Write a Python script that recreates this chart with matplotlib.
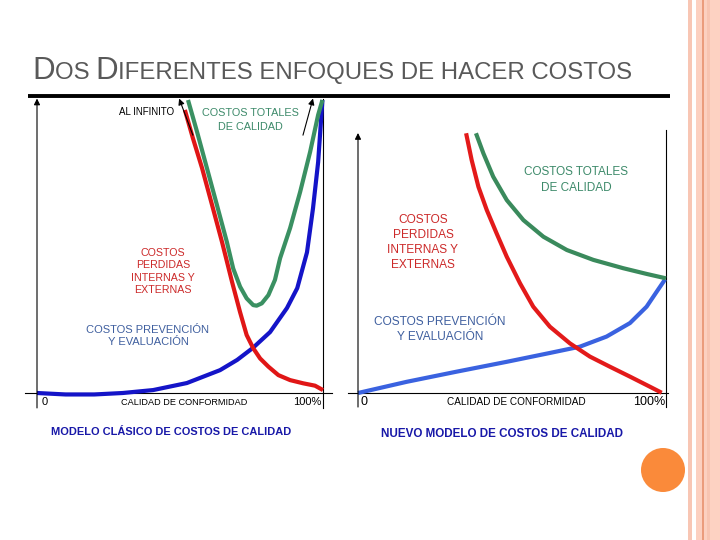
import matplotlib
matplotlib.use("Agg")
import matplotlib.pyplot as plt
from matplotlib.patches import Circle, Rectangle

plt.rcParams["font.family"] = ["Liberation Sans", "DejaVu Sans"]

# --- data (x: % calidad de conformidad, y: relative cost) ---
left_blue_x = [0, 10, 20, 30, 40.6, 52.4, 64, 70, 75.5, 81.5, 87.4, 91, 94.4, 96.5, 98.3, 99.8]
left_blue_y = [0, -0.5, -0.5, 0, 1.0, 3.4, 7.8, 11.3, 15.4, 20.8, 29, 35.8, 48, 63, 78.8, 100]
left_red_x = [51.7, 54.5, 57.7, 61.2, 64.7, 68.2, 71, 73.3, 75.6, 78.0, 80.9, 84.4, 88.5,
              93.1, 97.2, 100]
left_red_y = [96.6, 87, 76.8, 64.2, 51.5, 37.9, 27.6, 19.8, 15.3, 11.8, 9.0, 6.1, 4.4,
              3.3, 2.5, 1]
left_green_x = [52.8, 56, 59.4, 62.9, 66.4, 68.6, 71.0, 73.3, 75.6, 76.8, 78.6, 80.9, 83.2,
                85, 88.5, 92, 95.5, 98.3, 99.8]
left_green_y = [100, 89, 76.8, 64.2, 51.5, 42.5, 36.3, 32.3, 30.0, 29.8, 30.6, 33.4, 38.6,
                46, 56.3, 68.6, 82.3, 94.9, 100]

right_blue_x = [0, 15.8, 32, 48.3, 62.3, 72, 80.7, 88.3, 93.7, 97, 99.7]
right_blue_y = [0, 4.3, 8.2, 12, 15.4, 17.8, 21.7, 26.9, 33.2, 39, 43.7]
right_red_x = [35.1, 36.9, 39.1, 41.8, 45, 48.3, 52.6, 56.9, 62.3, 68.8, 75.3, 81.8, 88.3, 94.8, 98.6]
right_red_y = [99.9, 89.6, 79.3, 70.4, 61.4, 52.4, 42.2, 33.2, 25.5, 19.1, 14, 10.1, 6.3, 2.4, 0.1]
right_green_x = [38.3, 40.7, 43.9, 48.3, 53.7, 60.2, 67.8, 76.4, 86.1, 93.7, 100]
right_green_y = [99.9, 92.2, 83.2, 74.2, 66.5, 60.1, 55, 51.2, 48, 45.8, 44.1]

title_parts = ["D", "OS ", "D", "IFERENTES ENFOQUES DE HACER COSTOS"]
title_sizes = [22.5, 17.3, 22.5, 17.3]
captions = ["MODELO CLÁSICO DE COSTOS DE CALIDAD", "NUEVO MODELO DE COSTOS DE CALIDAD"]
label_total = "COSTOS TOTALES\nDE CALIDAD"
label_perdidas = "COSTOS\nPERDIDAS\nINTERNAS Y\nEXTERNAS"
label_prevencion = "COSTOS PREVENCIÓN\nY EVALUACIÓN"
x_label = "CALIDAD DE CONFORMIDAD"

fig = plt.figure(figsize=(7.2, 5.4), dpi=100)

# page overlay in pixel coordinates
over = fig.add_axes([0, 0, 1, 1])
over.set_xlim(0, 720)
over.set_ylim(540, 0)
over.axis("off")

# decorative stripes on the right edge
stripes = [(688, 692, "#f8c6b4"), (696, 702, "#fcd0c0"), (702, 703.5, "#eb9c7c"),
           (703.5, 707, "#fcd0c0"), (707, 710, "#f8c4b1"), (710, 720, "#fdd2c2")]
for a, b, c in stripes:
    over.add_patch(Rectangle((a, 0), b - a, 540, color=c, lw=0))
over.add_patch(Circle((663, 470), 22, color="#fa8a3a", lw=0))

# title in small caps, drawn piece by piece
renderer = fig.canvas.get_renderer()
x = 32
for s, size in zip(title_parts, title_sizes):
    t = over.text(x, 79, s, fontsize=size, color="#595959", va="baseline", ha="left")
    bb = t.get_window_extent(renderer)
    x += bb.width
over.plot([28, 670], [95.5, 95.5], color="black", lw=2.8, solid_capstyle="butt")

over.text(171, 432, captions[0], fontsize=7.9, fontweight="bold", color="#1818a8",
          ha="center", va="center")
over.text(502, 434, captions[1], fontsize=8.4, fontweight="bold", color="#1818a8",
          ha="center", va="center")


def chart_axes(pl, pr, pt, pb, x0, x100, y0, y100):
    ax = fig.add_axes([pl / 720, 1 - pb / 540, (pr - pl) / 720, (pb - pt) / 540])
    sx = (x100 - x0) / 100
    sy = (y0 - y100) / 100
    ax.set_xlim((pl - x0) / sx, (pr - x0) / sx)
    ax.set_ylim((y0 - pb) / sy, (y0 - pt) / sy)
    ax.axis("off")
    ax.patch.set_alpha(0)
    return ax


arrow = dict(arrowstyle="-|>", color="black", lw=0.8, mutation_scale=9, shrinkA=0, shrinkB=0)
curve = dict(lw=3, solid_joinstyle="round", solid_capstyle="butt")

# ---- left chart: classic model ----
axl = chart_axes(15, 345, 90, 420, 37, 323, 393, 100)
axl.plot([-4.2, 103], [0, 0], color="black", lw=0.8)
axl.plot([100, 100], [100.5, -5.1], color="black", lw=0.8)
axl.annotate("", xy=(0, 100.5), xytext=(0, -5.1), arrowprops=arrow)
axl.annotate("", xy=(49.7, 100.5), xytext=(54.5, 88), arrowprops=arrow)
axl.annotate("", xy=(96.5, 100.5), xytext=(93, 88), arrowprops=arrow)
axl.plot(left_blue_x, left_blue_y, color="#1414c8", **curve)
axl.plot(left_red_x, left_red_y, color="#e01616", **curve)
axl.plot(left_green_x, left_green_y, color="#3a9062", **curve)
axl.text(48, 95.9, "AL INFINITO", fontsize=7, color="black", ha="right", va="center")
axl.text(74.5, 93.2, label_total, fontsize=7.8, color="#3d8a6a", ha="center", va="center",
         linespacing=1.45)
axl.text(44, 41.5, label_perdidas, fontsize=7.7, color="#cc2a2a", ha="center", va="center",
         linespacing=1.3)
axl.text(38.8, 19.3, label_prevencion, fontsize=8, color="#3f5f9f", ha="center", va="center",
         linespacing=1.25)
axl.text(1.6, -3.1, "0", fontsize=8, ha="left", va="center")
axl.text(51.4, -3.3, x_label, fontsize=6.6, ha="center", va="center")
axl.text(99.6, -3.1, "100%", fontsize=8, ha="right", va="center")

# ---- right chart: new model ----
axr = chart_axes(340, 680, 120, 420, 358, 666, 393, 133)
axr.plot([-3.2, 100.6], [0, 0], color="black", lw=0.8)
axr.plot([100, 100], [101, -5.4], color="black", lw=0.8)
axr.annotate("", xy=(0, 100), xytext=(0, -5.4), arrowprops=arrow)
axr.plot(right_blue_x, right_blue_y, color="#3a62e0", **curve)
axr.plot(right_red_x, right_red_y, color="#e31a1a", **curve)
axr.plot(right_green_x, right_green_y, color="#3a8a5c", **curve)
axr.text(70.8, 81.9, label_total, fontsize=8.5, color="#3d8a6a", ha="center", va="center",
         linespacing=1.35)
axr.text(21.1, 57.9, label_perdidas, fontsize=8.6, color="#cc2a2a", ha="center", va="center",
         linespacing=1.3)
axr.text(26.6, 24.4, label_prevencion, fontsize=8.6, color="#3f5f9f", ha="center", va="center",
         linespacing=1.3)
axr.text(0.9, -3.5, "0", fontsize=9, ha="left", va="center")
axr.text(51.3, -3.5, x_label, fontsize=7.2, ha="center", va="center")
axr.text(99.7, -3.5, "100%", fontsize=9, ha="right", va="center")

fig.savefig("out.png", dpi=100)
